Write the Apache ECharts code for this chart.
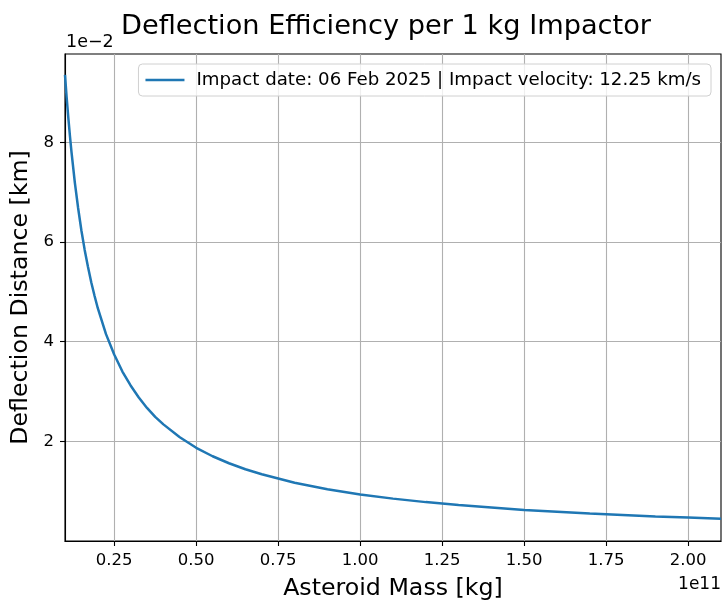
<!DOCTYPE html>
<html>
<head>
<meta charset="utf-8">
<script src="https://cdn.jsdelivr.net/npm/echarts@6/dist/echarts.min.js"></script>
<style>
  html, body { margin: 0; padding: 0; background: #fff; }
  #chart { width: 722px; height: 606px; }
</style>
</head>
<body>
<div id="chart"></div>
<script>
// asteroid mass, in units of 1e11 kg
const massValues = [0.10, 0.105, 0.11, 0.115, 0.12, 0.13, 0.14, 0.15, 0.16, 0.17, 0.18, 0.19, 0.20, 0.225, 0.25, 0.275, 0.30, 0.325,
    0.35, 0.375, 0.40, 0.45, 0.50, 0.55, 0.60, 0.65, 0.70, 0.80, 0.90, 1.00, 1.10, 1.20, 1.30, 1.40, 1.50, 1.60, 1.70, 1.80,
    1.90, 2.00, 2.10];
// deflection distance, in units of 1e-2 km
const deflectionValues = [9.35, 8.90, 8.50, 8.13, 7.79, 7.19, 6.68, 6.23, 5.84, 5.50, 5.19, 4.92, 4.67, 4.15, 3.74, 3.40, 3.12, 2.88,
    2.67, 2.49, 2.34, 2.08, 1.87, 1.70, 1.56, 1.44, 1.34, 1.17, 1.04, 0.935, 0.85, 0.78, 0.72, 0.67, 0.62, 0.585, 0.55, 0.52,
    0.49, 0.47, 0.445];
const xTicks = [0.25, 0.5, 0.75, 1.0, 1.25, 1.5, 1.75, 2.0];
const yTicks = [2, 4, 6, 8];
const seriesName = 'Impact date: 06 Feb 2025 | Impact velocity: 12.25 km/s';

const font = 'DejaVu Sans';
const chart = echarts.init(document.getElementById('chart'), null, { renderer: 'canvas' });

chart.setOption({
    animation: false,
    backgroundColor: '#ffffff',
    textStyle: { fontFamily: font, color: '#000' },
    title: {
        text: 'Deflection Efficiency per 1 kg Impactor',
        left: 381,
        textAlign: 'center',
        top: 8,
        textStyle: { fontFamily: font, fontSize: 27.2, fontWeight: 'normal', color: '#000' }
    },
    grid: {
        left: 65,
        right: 1,
        top: 54,
        bottom: 63,
        show: true,
        borderColor: '#000',
        borderWidth: 1.1,
        backgroundColor: 'transparent'
    },
    legend: {
        data: [{ name: seriesName, icon: 'rect' }],
        right: 11,
        top: 64,
        padding: [6, 10, 6, 7],
        itemWidth: 39,
        itemHeight: 2.6,
        itemGap: 5,
        borderColor: '#d0d0d0',
        borderWidth: 1,
        borderRadius: 4,
        backgroundColor: 'rgba(255,255,255,0.8)',
        textStyle: { fontFamily: font, fontSize: 18.2, color: '#000', padding: [0, 0, 0, 7], lineHeight: 20 }
    },
    xAxis: {
        type: 'value',
        min: 0.1,
        max: 2.1,
        name: 'Asteroid Mass [kg]',
        nameLocation: 'middle',
        nameGap: 36,
        nameTextStyle: { fontFamily: font, fontSize: 23.7, color: '#000' },
        axisLine: { show: true, onZero: false, lineStyle: { color: '#000', width: 1.1 } },
        axisTick: { show: true, length: 5, lineStyle: { color: '#000', width: 1.1 }, customValues: xTicks },
        axisLabel: {
            fontFamily: font, fontSize: 16.5, color: '#000', margin: 11,
            customValues: xTicks,
            formatter: v => v.toFixed(2)
        },
        splitLine: { show: true, lineStyle: { color: '#b0b0b0', width: 1.1 } }
    },
    yAxis: {
        type: 'value',
        min: 0,
        max: 9.77,
        name: 'Deflection Distance [km]',
        nameLocation: 'middle',
        nameGap: 32,
        nameTextStyle: { fontFamily: font, fontSize: 23.7, color: '#000' },
        axisLine: { show: true, onZero: false, lineStyle: { color: '#000', width: 1.1 } },
        axisTick: { show: true, length: 5, lineStyle: { color: '#000', width: 1.1 }, customValues: yTicks },
        axisLabel: {
            fontFamily: font, fontSize: 16.5, color: '#000', margin: 11,
            customValues: yTicks,
            formatter: v => String(v)
        },
        splitLine: { show: true, lineStyle: { color: '#b0b0b0', width: 1.1 } }
    },
    graphic: [
        {
            type: 'text', left: 66, top: 33,
            style: { text: '1e\u22122', fontFamily: font, fontSize: 17.5, fill: '#000' }
        },
        {
            type: 'text', right: 1, top: 576,
            style: { text: '1e11', fontFamily: font, fontSize: 17, fill: '#000' }
        }
    ],
    series: [{
        name: seriesName,
        type: 'line',
        data: massValues.map((m, i) => [m, deflectionValues[i]]),
        showSymbol: false,
        symbol: 'none',
        smooth: false,
        lineStyle: { color: '#1f77b4', width: 2.5 },
        itemStyle: { color: '#1f77b4' },
        clip: true
    }]
});
</script>
</body>
</html>
